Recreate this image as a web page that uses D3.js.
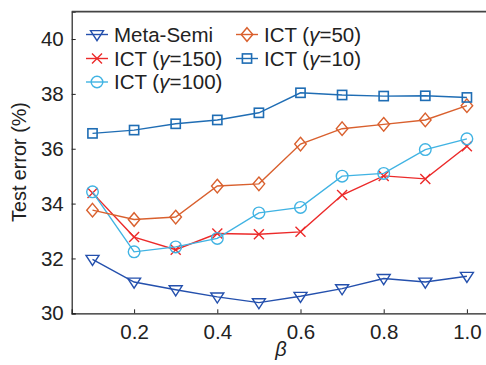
<!DOCTYPE html>
<html><head><meta charset="utf-8">
<script src="https://cdn.jsdelivr.net/npm/d3@7"></script>
<style>html,body{margin:0;padding:0;background:#fff;}svg{display:block;font-family:"Liberation Sans",Arial,sans-serif;}</style>
</head><body>
<svg id="c" width="486" height="365"></svg>
<script>
const betas = [0.1,0.2,0.3,0.4,0.5,0.6,0.7,0.8,0.9,1.0];
const metaSemi = [31.97,31.14,30.86,30.60,30.39,30.62,30.90,31.27,31.14,31.35];
const ict150 = [34.39,32.78,32.32,32.91,32.88,32.97,34.31,35.01,34.90,36.09];
const ict100 = [34.43,32.24,32.42,32.73,33.66,33.86,35.00,35.10,35.97,36.36];
const ict50 = [33.76,33.42,33.51,34.64,34.72,36.17,36.73,36.89,37.05,37.57];
const ict10 = [36.56,36.68,36.91,37.05,37.31,38.04,37.96,37.92,37.93,37.87];
const xTicks = [0.2,0.4,0.6,0.8,1.0];
const yTicks = [30,32,34,36,38,40];
const seriesNames = ["Meta-Semi","ICT (γ=150)","ICT (γ=100)","ICT (γ=50)","ICT (γ=10)"];

const series = [
  {name:seriesNames[0], vals:metaSemi, color:"#2450ad", marker:"tri"},
  {name:seriesNames[1], vals:ict150, color:"#ec2a2a", marker:"x"},
  {name:seriesNames[2], vals:ict100, color:"#40b3e3", marker:"circle"},
  {name:seriesNames[3], vals:ict50, color:"#d9602e", marker:"diamond"},
  {name:seriesNames[4], vals:ict10, color:"#1f6db4", marker:"square"}
];

const svg = d3.select("#c");
const L=71.7, R=487.7, T=11.6, B=313.3;
const x = d3.scaleLinear().domain([0.05,1.05]).range([L,R]);
const y = d3.scaleLinear().domain([30,41]).range([B,T]);

function drawMarker(g, type, cx, cy, color){
  if(type==="tri"){
    const s=6.5;
    g.append("path").attr("d",`M${cx-s},${cy-s*0.6}L${cx+s},${cy-s*0.6}L${cx},${cy+s*0.95}Z`).attr("fill","none").attr("stroke",color).attr("stroke-width",1.4);
  } else if(type==="x"){
    const s=5;
    g.append("path").attr("d",`M${cx-s},${cy-s}L${cx+s},${cy+s}M${cx-s},${cy+s}L${cx+s},${cy-s}`).attr("stroke",color).attr("stroke-width",1.4);
  } else if(type==="circle"){
    g.append("circle").attr("cx",cx).attr("cy",cy).attr("r",5.8).attr("fill","none").attr("stroke",color).attr("stroke-width",1.4);
  } else if(type==="diamond"){
    const s=6.8;
    g.append("path").attr("d",`M${cx},${cy-s}L${cx+s*0.85},${cy}L${cx},${cy+s}L${cx-s*0.85},${cy}Z`).attr("fill","none").attr("stroke",color).attr("stroke-width",1.4);
  } else if(type==="square"){
    const s=4.6;
    g.append("rect").attr("x",cx-s).attr("y",cy-s).attr("width",2*s).attr("height",2*s).attr("fill","none").attr("stroke",color).attr("stroke-width",1.6);
  }
}

const FS = 20.5;
// axes
const xAxis = d3.axisBottom(x).tickValues(xTicks).tickSize(-4).tickPadding(11).tickFormat(d3.format(".1f"));
const gx = svg.append("g").attr("transform",`translate(0,${B})`).call(xAxis);
gx.select(".domain").attr("stroke","#222").attr("stroke-width",1.2);
gx.selectAll(".tick line").attr("stroke","#222");
gx.selectAll(".tick text").attr("font-size",FS).attr("fill","#222").attr("font-family","Liberation Sans, Arial, sans-serif");

const yAxis = d3.axisLeft(y).tickValues(yTicks).tickSize(-4).tickPadding(8);
const gy = svg.append("g").attr("transform",`translate(${L},0)`).call(yAxis);
gy.select(".domain").attr("stroke","#222").attr("stroke-width",1.2);
gy.selectAll(".tick line").attr("stroke","#222");
gy.selectAll(".tick text").attr("font-size",FS).attr("fill","#222").attr("font-family","Liberation Sans, Arial, sans-serif");

// top border
svg.append("line").attr("x1",L).attr("x2",R).attr("y1",T).attr("y2",T).attr("stroke","#444").attr("stroke-width",1.6);

// data
const line = d3.line().x((d,i)=>x(betas[i])).y(d=>y(d));
series.forEach(s=>{
  const g = svg.append("g");
  g.append("path").datum(s.vals).attr("d",line).attr("fill","none").attr("stroke",s.color).attr("stroke-width",1.4);
  s.vals.forEach((v,i)=>drawMarker(g,s.marker,x(betas[i]),y(v),s.color));
});

// labels
svg.append("text").attr("x",281).attr("y",356).attr("text-anchor","middle").attr("font-size",20).attr("font-style","italic").attr("fill","#222").text("β");
svg.append("text").attr("transform","translate(26,162) rotate(-90)").attr("text-anchor","middle").attr("font-size",19.8).attr("fill","#222").text("Test error (%)");

// legend
const legendPos = [
  {i:0, x:86, y:34.5},
  {i:1, x:86, y:58.5},
  {i:2, x:86, y:82},
  {i:3, x:236, y:34.5},
  {i:4, x:236, y:58.5}
];
legendPos.forEach(p=>{
  const s = series[p.i];
  const g = svg.append("g");
  g.append("line").attr("x1",p.x).attr("x2",p.x+22).attr("y1",p.y).attr("y2",p.y).attr("stroke",s.color).attr("stroke-width",1.4);
  drawMarker(g,s.marker,p.x+11,p.y,s.color);
  const t = g.append("text").attr("x",p.x+28).attr("y",p.y+7.3).attr("font-size",FS).attr("fill","#222");
  if(s.name.startsWith("ICT")){
    const m = s.name.match(/ICT \(γ=(\d+)\)/);
    t.append("tspan").text("ICT (");
    t.append("tspan").attr("font-style","italic").text("γ");
    t.append("tspan").text("="+m[1]+")");
  } else t.text(s.name);
});
</script>
</body></html>
